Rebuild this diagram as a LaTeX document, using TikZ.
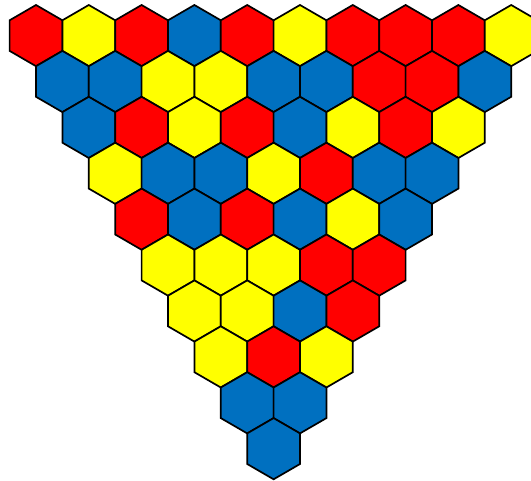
\documentclass[tikz,border=0pt]{standalone}
\definecolor{hR}{HTML}{FF0000}
\definecolor{hY}{HTML}{FFFF00}
\definecolor{hB}{HTML}{0070C0}
\tikzset{hexcell/.style={draw=black, line width=1.7pt, line join=miter}}
\begin{document}
\begin{tikzpicture}[x=1pt,y=-1pt]
\useasboundingbox (0,0) rectangle (531,481);
\clip (0,0) rectangle (531,481);
\def\hw{26.4}
\def\hr{30.6}
\foreach \row/\cols in {0/{R,Y,R,B,R,Y,R,R,R,Y},
                        1/{B,B,Y,Y,B,B,R,R,B},
                        2/{B,R,Y,R,B,Y,R,Y},
                        3/{Y,B,B,Y,R,B,B},
                        4/{R,B,R,B,Y,B},
                        5/{Y,Y,Y,R,R},
                        6/{Y,Y,B,R},
                        7/{Y,R,Y},
                        8/{B,B},
                        9/{B}} {
  \foreach \c [count=\i from 0] in \cols {
    \pgfmathsetmacro{\cx}{36+\row*26.4+\i*52.8}
    \pgfmathsetmacro{\cy}{35.6+\row*45.9}
    \draw[hexcell, fill=h\c] (\cx,\cy-\hr) -- (\cx+\hw,\cy-\hr/2) -- (\cx+\hw,\cy+\hr/2) -- (\cx,\cy+\hr) -- (\cx-\hw,\cy+\hr/2) -- (\cx-\hw,\cy-\hr/2) -- cycle;
  }
}
\end{tikzpicture}
\end{document}
